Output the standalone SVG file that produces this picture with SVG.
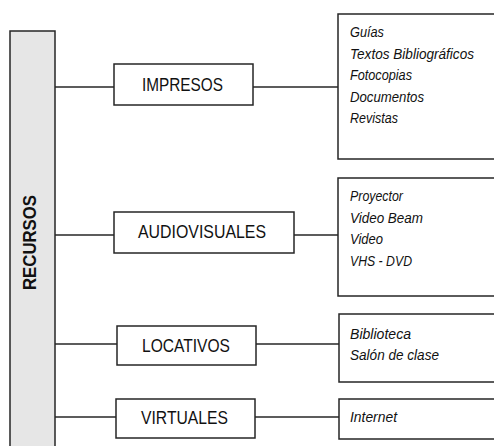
<svg xmlns="http://www.w3.org/2000/svg" width="494" height="446" viewBox="0 0 494 446">
  <style>
    .box { fill: #ffffff; stroke: #262626; stroke-width: 1.5; }
    .bar { fill: #e6e6e6; stroke: #262626; stroke-width: 1.5; }
    .conn { stroke: #262626; stroke-width: 1.5; fill: none; }
    .cat { font-family: "Liberation Sans", Arial, sans-serif; font-size: 19px; fill: #111; text-anchor: middle; }
    .root { font-family: "Liberation Sans", Arial, sans-serif; font-size: 19px; font-weight: bold; fill: #111; text-anchor: middle; }
    .item { font-family: "Liberation Sans", Arial, sans-serif; font-size: 15px; font-style: italic; fill: #111; }
  </style>
  <rect width="494" height="446" fill="#ffffff"/>

  <!-- connectors -->
  <g id="connectors">
    <line class="conn" x1="55" y1="87" x2="114" y2="87"/>
    <line class="conn" x1="253" y1="87" x2="338" y2="87"/>
    <line class="conn" x1="55" y1="235" x2="114" y2="235"/>
    <line class="conn" x1="294" y1="235" x2="338" y2="235"/>
    <line class="conn" x1="55" y1="344" x2="117" y2="344"/>
    <line class="conn" x1="256" y1="344" x2="339" y2="344"/>
    <line class="conn" x1="55" y1="417" x2="116" y2="417"/>
    <line class="conn" x1="255" y1="417" x2="339" y2="417"/>
  </g>

  <!-- root bar -->
  <g id="recursos">
    <rect class="bar" x="10" y="31" width="45" height="430"/>
    <text class="root" transform="translate(36,242.5) rotate(-90)" x="0" y="0" textLength="95" lengthAdjust="spacingAndGlyphs">RECURSOS</text>
  </g>

  <!-- categories -->
  <g id="impresos">
    <rect class="box" x="114" y="64" width="139" height="41"/>
    <text class="cat" x="182.5" y="91" textLength="81" lengthAdjust="spacingAndGlyphs">IMPRESOS</text>
  </g>
  <g id="audiovisuales">
    <rect class="box" x="114" y="212" width="180" height="41"/>
    <text class="cat" x="202" y="238" textLength="128" lengthAdjust="spacingAndGlyphs">AUDIOVISUALES</text>
  </g>
  <g id="locativos">
    <rect class="box" x="117" y="326" width="139" height="39"/>
    <text class="cat" x="186" y="352" textLength="88" lengthAdjust="spacingAndGlyphs">LOCATIVOS</text>
  </g>
  <g id="virtuales">
    <rect class="box" x="116" y="399" width="139" height="39"/>
    <text class="cat" x="184.5" y="424" textLength="87" lengthAdjust="spacingAndGlyphs">VIRTUALES</text>
  </g>

  <!-- item lists -->
  <g id="lista-impresos">
    <rect class="box" x="338" y="14" width="170" height="145"/>
    <text class="item" x="350" y="37" textLength="34" lengthAdjust="spacingAndGlyphs">Guías</text>
    <text class="item" x="350" y="58.5" textLength="124" lengthAdjust="spacingAndGlyphs">Textos Bibliográficos</text>
    <text class="item" x="350" y="80" textLength="62" lengthAdjust="spacingAndGlyphs">Fotocopias</text>
    <text class="item" x="350" y="101.5" textLength="74" lengthAdjust="spacingAndGlyphs">Documentos</text>
    <text class="item" x="350" y="123" textLength="48" lengthAdjust="spacingAndGlyphs">Revistas</text>
  </g>
  <g id="lista-audiovisuales">
    <rect class="box" x="338" y="178" width="170" height="118"/>
    <text class="item" x="350" y="201" textLength="53" lengthAdjust="spacingAndGlyphs">Proyector</text>
    <text class="item" x="350" y="222.5" textLength="73" lengthAdjust="spacingAndGlyphs">Video Beam</text>
    <text class="item" x="350" y="244" textLength="33" lengthAdjust="spacingAndGlyphs">Video</text>
    <text class="item" x="350" y="265.5" textLength="62" lengthAdjust="spacingAndGlyphs">VHS - DVD</text>
  </g>
  <g id="lista-locativos">
    <rect class="box" x="339" y="314" width="170" height="68"/>
    <text class="item" x="350" y="339" textLength="61" lengthAdjust="spacingAndGlyphs">Biblioteca</text>
    <text class="item" x="350" y="360" textLength="89" lengthAdjust="spacingAndGlyphs">Salón de clase</text>
  </g>
  <g id="lista-virtuales">
    <rect class="box" x="339" y="399" width="170" height="40"/>
    <text class="item" x="350" y="422" textLength="47" lengthAdjust="spacingAndGlyphs">Internet</text>
  </g>
</svg>
